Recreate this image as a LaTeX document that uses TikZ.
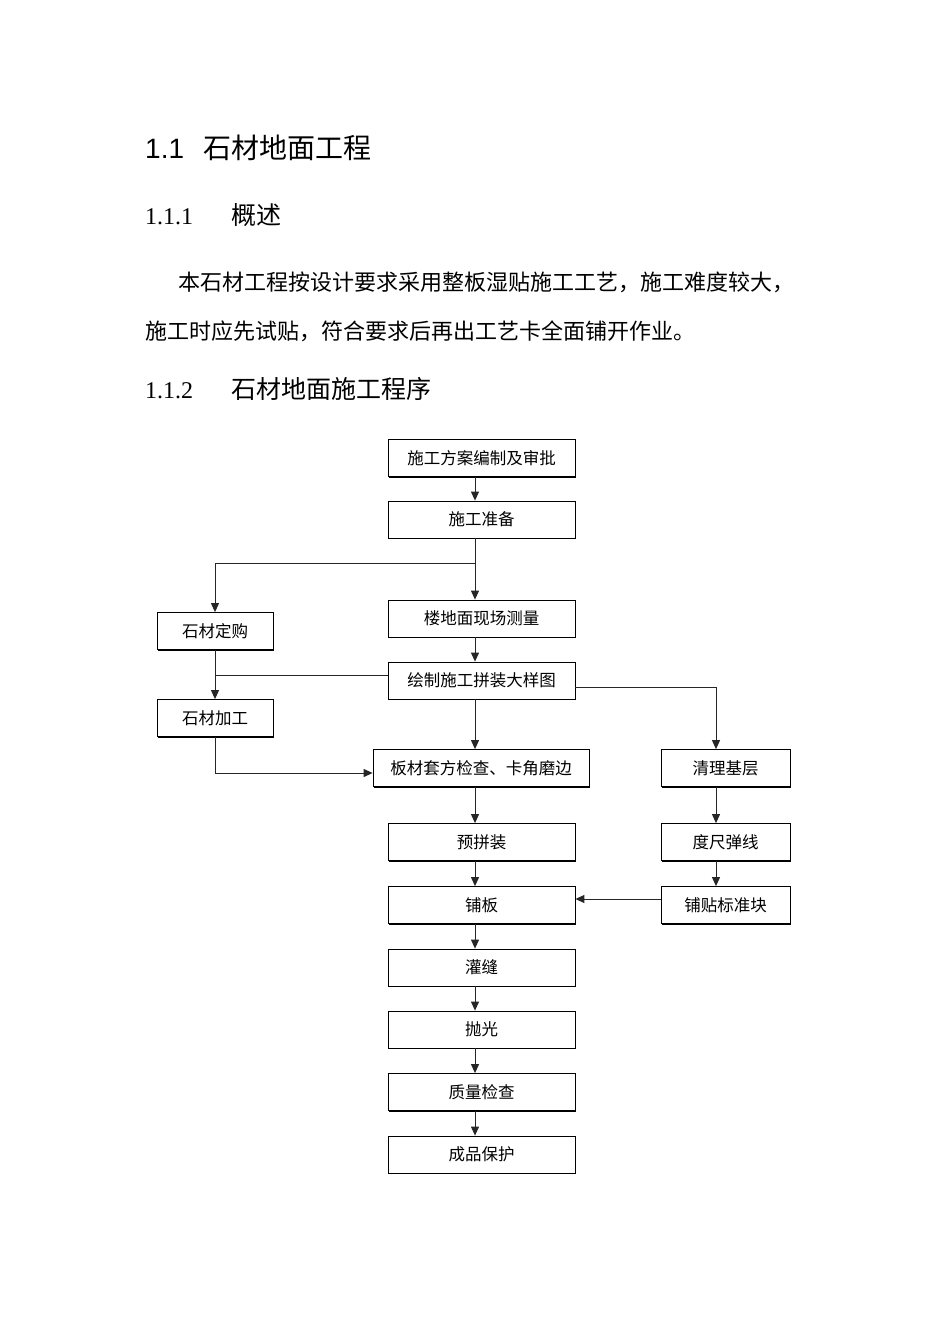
\documentclass[tikz,border=0pt]{standalone}
\usepackage{fontspec}
\setmainfont{Liberation Serif}
\newfontfamily\cjk{Noto Sans CJK SC}
\newfontfamily\arialf{Liberation Sans}
\usetikzlibrary{arrows.meta,calc,shadows}
\begin{document}
\begin{tikzpicture}[x=1pt,y=-1pt,
  box/.style={draw, line width=0.8pt, fill=white, inner sep=0pt, minimum height=37pt,
    font=\cjk\fontsize{16.5}{16.5}\selectfont,
    drop shadow={shadow xshift=1.3pt, shadow yshift=-1.3pt, fill=black, opacity=1}},
  wbox/.style={box, minimum width=187pt},
  sbox/.style={box, minimum width=116pt},
  rbox/.style={box, minimum width=129pt},
  arr/.style={line width=1pt, draw=black!85, -{Triangle[length=9pt,width=8pt]}},
  ln/.style={line width=1pt, draw=black!85},
  txt/.style={anchor=base west, inner sep=0pt}]
\useasboundingbox (0,0) rectangle (950,1344);
% headings and text
\node[txt] (h1) at (145,158) {\arialf\fontsize{28}{28}\selectfont 1.1\hspace{19pt}\cjk 石材地面工程};
\node[txt] (h2) at (145,224) {\fontsize{24}{24}\selectfont 1.1.1\hspace{38pt}\cjk\fontsize{25}{25}\selectfont 概述};
\node[txt] (p1) at (178,290) {\cjk\fontsize{22}{22}\selectfont 本石材工程按设计要求采用整板湿贴施工工艺，施工难度较大，};
\node[txt] (p2) at (145,339) {\cjk\fontsize{22}{22}\selectfont 施工时应先试贴，符合要求后再出工艺卡全面铺开作业。};
\node[txt] (h3) at (145,398) {\fontsize{24}{24}\selectfont 1.1.2\hspace{38pt}\cjk\fontsize{25}{25}\selectfont 石材地面施工程序};
% boxes
\node[wbox] (n1) at (481.5,458) {施工方案编制及审批};
\node[wbox] (n2) at (481.5,519.5) {施工准备};
\node[wbox] (n3) at (481.5,618.5) {楼地面现场测量};
\node[sbox] (l1) at (215,631) {石材定购};
\node[wbox] (n4) at (481.5,680.5) {绘制施工拼装大样图};
\node[sbox] (l2) at (215,718) {石材加工};
\node[box, minimum width=216pt] (n5) at (481,768) {板材套方检查、卡角磨边};
\node[rbox] (r1) at (725.5,768) {清理基层};
\node[wbox] (n6) at (481.5,842) {预拼装};
\node[rbox] (r2) at (725.5,842) {度尺弹线};
\node[wbox] (n7) at (481.5,905) {铺板};
\node[rbox] (r3) at (725.5,905) {铺贴标准块};
\node[wbox] (n8) at (481.5,967.5) {灌缝};
\node[wbox] (n9) at (481.5,1029.5) {抛光};
\node[wbox] (n10) at (481.5,1092) {质量检查};
\node[wbox] (n11) at (481.5,1154.5) {成品保护};
% helper coordinates
\coordinate (mx) at (475,0);
\coordinate (rx) at (716,0);
\coordinate (b1) at (475,563);
\coordinate (j1) at (215,675);
% connectors
\draw[arr] (n1.south -| mx) -- (n2.north -| mx);
\draw[arr] (n2.south -| mx) -- (n3.north -| mx);
\draw[arr] (b1) -| (l1.north);
\draw[arr] (l1.south) -- (l2.north);
\draw[ln] (n4.west |- j1) -- (j1);
\draw[arr] (l2.south) |- ($(n5.west)+(0,5)$);
\draw[arr] (n3.south -| mx) -- (n4.north -| mx);
\draw[arr] (n4.south -| mx) -- (n5.north -| mx);
\draw[arr] (n5.south -| mx) -- (n6.north -| mx);
\draw[arr] (n6.south -| mx) -- (n7.north -| mx);
\draw[arr] (n7.south -| mx) -- (n8.north -| mx);
\draw[arr] (n8.south -| mx) -- (n9.north -| mx);
\draw[arr] (n9.south -| mx) -- (n10.north -| mx);
\draw[arr] (n10.south -| mx) -- (n11.north -| mx);
\draw[arr] ($(n4.east)+(0,7)$) -| (r1.north -| rx);
\draw[arr] (r1.south -| rx) -- (r2.north -| rx);
\draw[arr] (r2.south -| rx) -- (r3.north -| rx);
\draw[arr] ($(r3.west)+(0,-6)$) -- ($(n7.east)+(0,-6)$);
\end{tikzpicture}
\end{document}
